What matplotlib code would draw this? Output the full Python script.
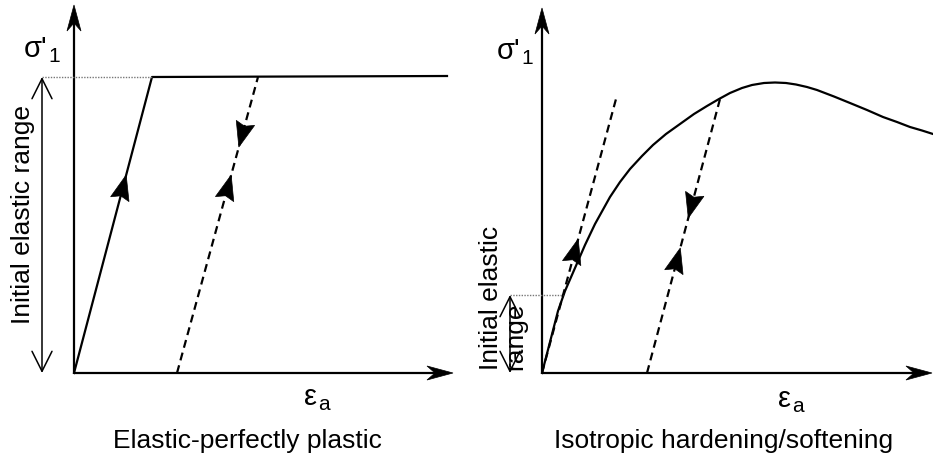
import matplotlib
matplotlib.use("Agg")
import matplotlib.pyplot as plt
from matplotlib.patches import Polygon
import numpy as np

plt.rcParams['font.family'] = ['Liberation Sans', 'DejaVu Sans']

# left panel: elastic-perfectly plastic (strain, stress in arbitrary units)
epp_strain = [0, 0.78, 3.73]
epp_stress = [0, 2.96, 2.97]
epp_unload_strain = [1.03, 1.84]
epp_unload_stress = [0, 2.96]
epp_yield = 2.96

# right panel: isotropic hardening/softening
iso_strain = [0, 0.08, 0.16, 0.23, 0.33, 0.43, 0.53, 0.68, 0.78, 0.88, 1.00, 1.11,
              1.24, 1.38, 1.52, 1.65, 1.77, 1.88, 2.00, 2.10, 2.22, 2.33, 2.44,
              2.54, 2.65, 2.75, 2.92, 3.08, 3.25, 3.41, 3.55, 3.68, 3.80, 3.91]
iso_stress = [0, 0.31, 0.62, 0.82, 1.05, 1.28, 1.49, 1.76, 1.91, 2.04, 2.17, 2.28,
              2.39, 2.49, 2.59, 2.67, 2.74, 2.80, 2.85, 2.88, 2.90, 2.905, 2.90,
              2.885, 2.86, 2.83, 2.765, 2.70, 2.63, 2.56, 2.51, 2.46, 2.425, 2.39]
iso_tangent_strain = [0, 0.74]
iso_tangent_stress = [0, 2.74]
iso_unload_strain = [1.05, 1.78]
iso_unload_stress = [0, 2.74]
iso_yield = 0.78

LW = 1.6
DASH = (3.6, 2.3)
FS = 19


def stealth(ax, tip, direction, length=0.26, half=0.07, notch=0.08):
    d = np.array(direction, float)
    d = d / np.hypot(*d)
    n = np.array([-d[1], d[0]])
    tip = np.array(tip, float)
    back = tip - d * length
    pts = [tip, back + n * half, tip - d * (length - notch), back - n * half]
    ax.add_patch(Polygon(pts, closed=True, fc='black', ec='black', lw=0.5, clip_on=False))


def line_arrow(ax, xs, ys, stress, up=True):
    # filled triangle sitting on a straight line at a given stress level
    x = xs[0] + (xs[1] - xs[0]) * (stress - ys[0]) / (ys[1] - ys[0])
    d = (xs[1] - xs[0], ys[1] - ys[0])
    if not up:
        d = (-d[0], -d[1])
    stealth(ax, (x, stress), d, length=0.25, half=0.095, notch=0.035)


def axes_frame(ax, xtip, ytip):
    ax.plot([0, xtip - 0.1], [0, 0], color='black', lw=LW, solid_capstyle='butt')
    ax.plot([0, 0], [0, ytip - 0.1], color='black', lw=LW, solid_capstyle='butt')
    stealth(ax, (xtip, 0), (1, 0))
    stealth(ax, (0, ytip), (0, 1))


def range_arrow(ax, x, top):
    ax.annotate('', xy=(x, top), xytext=(x, 0),
                arrowprops=dict(arrowstyle='<->,head_length=0.9,head_width=0.45',
                                lw=1.1, color='black', shrinkA=0, shrinkB=0,
                                mutation_scale=16))


def symbol(ax, x, y, main, sub, drop):
    t = ax.text(x, y, main, fontsize=21, ha='left', va='baseline')
    ax.annotate(sub, xy=(1, 0), xycoords=t, xytext=(0.5, -drop),
                textcoords='offset points', fontsize=15, ha='left', va='bottom')


fig = plt.figure(figsize=(9.33, 4.57), dpi=100)
ax1 = fig.add_axes([0, 0, 466 / 933, 1])
ax2 = fig.add_axes([466 / 933, 0, 467 / 933, 1])
ax1.set_xlim(-0.74, 3.92)
ax2.set_xlim(-0.76, 3.91)
for ax in (ax1, ax2):
    ax.set_ylim(-0.84, 3.73)
    ax.axis('off')

# ---- left panel
axes_frame(ax1, 3.79, 3.68)
ax1.plot(epp_strain, epp_stress, color='black', lw=LW)
ax1.plot(epp_unload_strain, epp_unload_stress, color='black', lw=LW, dashes=DASH)
ax1.plot([-0.32, epp_strain[1]], [epp_yield, epp_yield], color='#777777', lw=1.0,
         linestyle=(0, (1, 1)))
range_arrow(ax1, -0.32, epp_yield)
line_arrow(ax1, epp_strain[:2], epp_stress[:2], 1.98)
line_arrow(ax1, epp_unload_strain, epp_unload_stress, 1.98)
line_arrow(ax1, epp_unload_strain, epp_unload_stress, 2.26, up=False)
ax1.text(-0.51, 1.58, 'Initial elastic range', rotation=90, fontsize=FS,
         ha='center', va='center')
symbol(ax1, -0.50, 3.16, "σ'", '1', 2)
symbol(ax1, 2.30, -0.32, 'ε', 'a', 2)
ax1.text(1.73, -0.75, 'Elastic-perfectly plastic', fontsize=FS, ha='center', va='baseline')

# ---- right panel
axes_frame(ax2, 3.90, 3.65)
ax2.plot(iso_strain, iso_stress, color='black', lw=LW, clip_on=False)
ax2.plot(iso_tangent_strain, iso_tangent_stress, color='black', lw=LW, dashes=DASH)
ax2.plot(iso_unload_strain, iso_unload_stress, color='black', lw=LW, dashes=DASH)
ax2.plot([-0.32, 0.21], [iso_yield, iso_yield], color='#777777', lw=1.0,
         linestyle=(0, (1, 1)))
range_arrow(ax2, -0.32, iso_yield)
line_arrow(ax2, iso_tangent_strain, iso_tangent_stress, 1.34)
line_arrow(ax2, iso_unload_strain, iso_unload_stress, 1.25)
line_arrow(ax2, iso_unload_strain, iso_unload_stress, 1.55, up=False)
ax2.text(-0.635, 0.03, 'Initial elastic\nrange', rotation=90, fontsize=FS,
         ha='left', va='bottom', multialignment='left', linespacing=1.05)
symbol(ax2, -0.45, 3.14, "σ'", '1', 2)
symbol(ax2, 2.36, -0.34, 'ε', 'a', 2)
ax2.text(1.82, -0.75, 'Isotropic hardening/softening', fontsize=FS, ha='center', va='baseline')

fig.savefig('out.png', dpi=100)
